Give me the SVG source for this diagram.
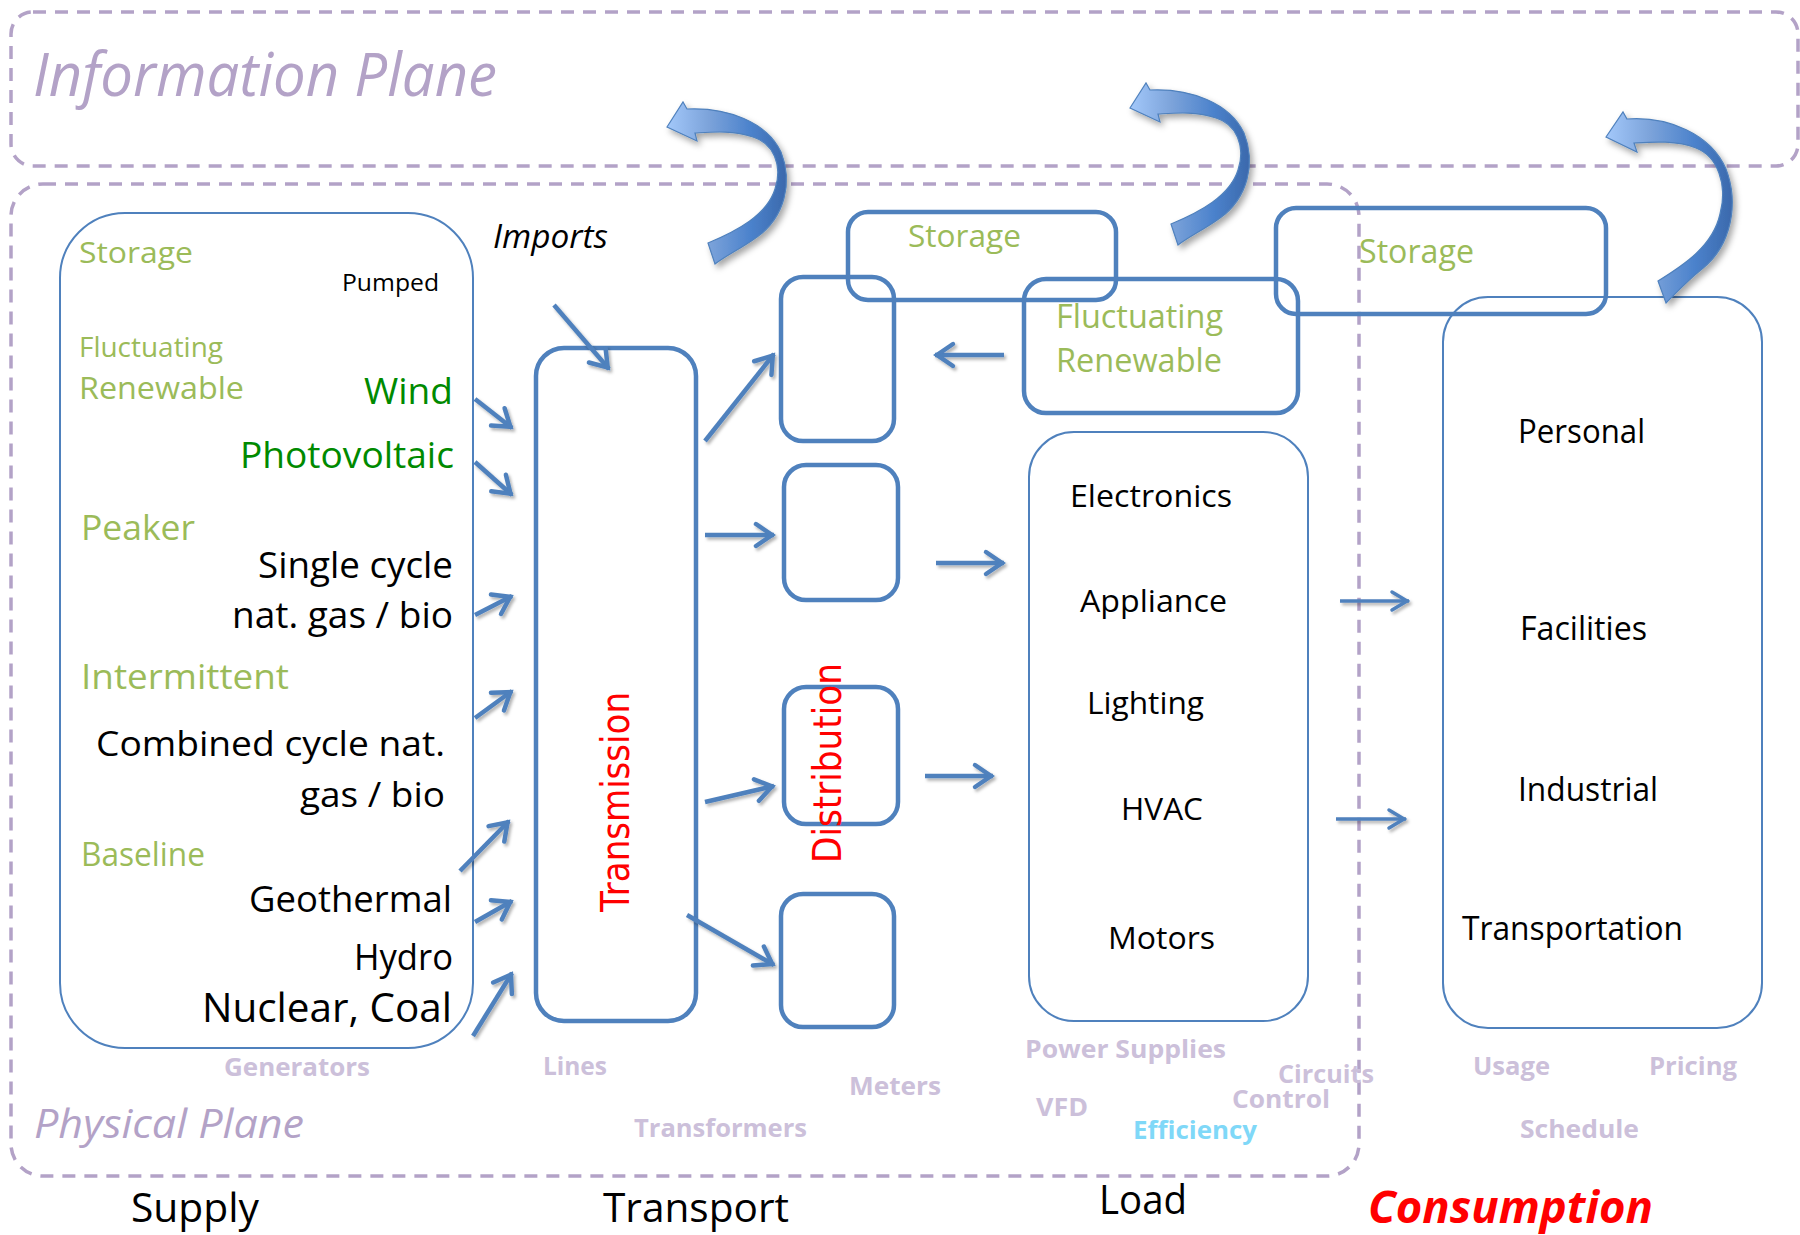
<svg xmlns="http://www.w3.org/2000/svg" width="1800" height="1235" viewBox="0 0 1800 1235">
<defs>
<style>
.pl{fill:none;stroke:#B3A2C7;stroke-width:3.5;stroke-dasharray:13 9}
.bx{fill:none;stroke:#4F81BD;stroke-width:4.5}
.bt{fill:none;stroke:#4F81BD;stroke-width:2}
text{font-family:"Open Sans","Liberation Sans",sans-serif;fill:#000}
.g{fill:#9BBB59}
.dg{fill:#008A00}
.pt{fill:#B3A2C7;font-style:italic;font-weight:normal}
.lv{fill:#CCC0DA;font-weight:bold;font-size:25.5px}
.rd{font-family:"DejaVu Sans","Liberation Sans",sans-serif;fill:#FF0000;font-size:39px}
.ln{stroke:#4F81BD;stroke-width:4.5;fill:none;marker-end:url(#ah)}
.ln2{stroke:#4F81BD;stroke-width:3.5;fill:none;marker-end:url(#ah2)}
.ca{fill:url(#cg);stroke:#4F81BD;stroke-width:1.2}
</style>
<marker id="ah" markerUnits="userSpaceOnUse" markerWidth="40" markerHeight="40" viewBox="-20 -20 40 40" refX="2" refY="0" orient="auto" overflow="visible">
<path d="M-16,-11 L0,0 L-16,11" fill="none" stroke="#4F81BD" stroke-width="4.5" stroke-linecap="round"/>
</marker>
<marker id="ah2" markerUnits="userSpaceOnUse" markerWidth="40" markerHeight="40" viewBox="-20 -20 40 40" refX="2" refY="0" orient="auto" overflow="visible">
<path d="M-15,-9 L0,0 L-15,9" fill="none" stroke="#4F81BD" stroke-width="3.5" stroke-linecap="round"/>
</marker>
<linearGradient id="cg" x1="0" y1="0" x2="1" y2="0">
<stop offset="0" stop-color="#A3C8FA"/>
<stop offset="0.35" stop-color="#7CA3DA"/>
<stop offset="0.7" stop-color="#4B82CC"/>
<stop offset="1" stop-color="#3B69AC"/>
</linearGradient>
<filter id="cs" x="-30%" y="-30%" width="170%" height="170%">
<feDropShadow dx="3" dy="4" stdDeviation="3" flood-color="#000" flood-opacity="0.35"/>
</filter>
<filter id="ls" x="-5%" y="-5%" width="115%" height="115%">
<feDropShadow dx="2" dy="2.5" stdDeviation="1.5" flood-color="#000" flood-opacity="0.3"/>
</filter>
<path id="carr" d="M0,0 L16,-25 L20,-18 C60,-20 100,-5 114,25 C126,55 118,90 90,110 C75,121 60,128 48,137 L41,116 C70,104 100,88 108,62 C116,38 106,16 86,10 C66,3 45,5 28,6 L30,14 Z"/>
</defs>

<g id="information-plane">
<rect class="pl" x="11" y="12" width="1787" height="154" rx="22"/>
<text class="pt" x="33" y="96" font-size="60" textLength="464" lengthAdjust="spacingAndGlyphs">Information Plane</text>
</g>

<g id="physical-plane">
<rect class="pl" x="11" y="184" width="1348" height="992" rx="32"/>
<text class="pt" x="34" y="1138" font-size="41" textLength="270" lengthAdjust="spacingAndGlyphs">Physical Plane</text>
</g>

<g id="supply">
<rect class="bt" x="60" y="213" width="413" height="835" rx="65"/>
<text class="g" x="79" y="263" font-size="29.5" textLength="114" lengthAdjust="spacingAndGlyphs">Storage</text>
<text x="342" y="291" font-size="24" textLength="97" lengthAdjust="spacingAndGlyphs">Pumped</text>
<text class="g" x="79" y="357" font-size="28" textLength="144" lengthAdjust="spacingAndGlyphs">Fluctuating</text>
<text class="g" x="79" y="399" font-size="31.5" textLength="165" lengthAdjust="spacingAndGlyphs">Renewable</text>
<text class="dg" x="364" y="404" font-size="36" textLength="89" lengthAdjust="spacingAndGlyphs">Wind</text>
<text class="dg" x="240" y="468" font-size="36" textLength="214" lengthAdjust="spacingAndGlyphs">Photovoltaic</text>
<text class="g" x="81" y="540" font-size="35" textLength="114" lengthAdjust="spacingAndGlyphs">Peaker</text>
<text x="258" y="578" font-size="36" textLength="195" lengthAdjust="spacingAndGlyphs">Single cycle</text>
<text x="232" y="628" font-size="36" textLength="221" lengthAdjust="spacingAndGlyphs">nat. gas / bio</text>
<text class="g" x="81" y="689" font-size="35" textLength="208" lengthAdjust="spacingAndGlyphs">Intermittent</text>
<text x="96" y="756" font-size="35" textLength="349" lengthAdjust="spacingAndGlyphs">Combined cycle nat.</text>
<text x="300" y="807" font-size="35" textLength="145" lengthAdjust="spacingAndGlyphs">gas / bio</text>
<text class="g" x="81" y="866" font-size="32" textLength="124" lengthAdjust="spacingAndGlyphs">Baseline</text>
<text x="249" y="912" font-size="36" textLength="203" lengthAdjust="spacingAndGlyphs">Geothermal</text>
<text x="354" y="970" font-size="36" textLength="99" lengthAdjust="spacingAndGlyphs">Hydro</text>
<text x="202" y="1022" font-size="40" textLength="250" lengthAdjust="spacingAndGlyphs">Nuclear, Coal</text>
<text class="lv" x="224" y="1076" textLength="146" lengthAdjust="spacingAndGlyphs">Generators</text>
<text x="131" y="1222" font-size="40" textLength="128" lengthAdjust="spacingAndGlyphs">Supply</text>
</g>

<g id="transport">
<text x="493" y="248" font-size="32" font-style="italic" textLength="115" lengthAdjust="spacingAndGlyphs">Imports</text>
<g id="transmission">
<rect class="bx" x="536" y="348" width="160" height="673" rx="28"/>
<text class="rd" transform="translate(629,912) rotate(-90)" x="0" y="0" textLength="220" lengthAdjust="spacingAndGlyphs">Transmission</text>
</g>
<g id="distribution">
<rect class="bx" x="781" y="277" width="113" height="164" rx="22"/>
<rect class="bx" x="784" y="465" width="114" height="135" rx="22"/>
<rect class="bx" x="784" y="687" width="114" height="137" rx="22"/>
<rect class="bx" x="781" y="894" width="113" height="133" rx="22"/>
<text class="rd" transform="translate(841,863) rotate(-90)" x="0" y="0" textLength="200" lengthAdjust="spacingAndGlyphs">Distribution</text>
</g>
<g id="storage-transport">
<rect class="bx" x="848" y="212" width="268" height="88" rx="20"/>
<text class="g" x="908" y="247" font-size="31" textLength="113" lengthAdjust="spacingAndGlyphs">Storage</text>
</g>
<text class="lv" x="543" y="1075" textLength="64" lengthAdjust="spacingAndGlyphs">Lines</text>
<text class="lv" x="634" y="1137" textLength="173" lengthAdjust="spacingAndGlyphs">Transformers</text>
<text class="lv" x="849" y="1095" textLength="92" lengthAdjust="spacingAndGlyphs">Meters</text>
<text x="603" y="1222" font-size="40" textLength="186" lengthAdjust="spacingAndGlyphs">Transport</text>
</g>

<g id="fluctuating-renewable">
<rect class="bx" x="1024" y="279" width="274" height="134" rx="22"/>
<text class="g" x="1056" y="328" font-size="33" textLength="167" lengthAdjust="spacingAndGlyphs">Fluctuating</text>
<text class="g" x="1056" y="372" font-size="33" textLength="166" lengthAdjust="spacingAndGlyphs">Renewable</text>
</g>

<g id="load">
<rect class="bt" x="1029" y="432" width="279" height="589" rx="45"/>
<text x="1070" y="507" font-size="31" textLength="162" lengthAdjust="spacingAndGlyphs">Electronics</text>
<text x="1080" y="612" font-size="31" textLength="147" lengthAdjust="spacingAndGlyphs">Appliance</text>
<text x="1087" y="714" font-size="31" textLength="117" lengthAdjust="spacingAndGlyphs">Lighting</text>
<text x="1121" y="820" font-size="31" textLength="82" lengthAdjust="spacingAndGlyphs">HVAC</text>
<text x="1108" y="949" font-size="31" textLength="107" lengthAdjust="spacingAndGlyphs">Motors</text>
<text class="lv" x="1025" y="1058" textLength="201" lengthAdjust="spacingAndGlyphs">Power Supplies</text>
<text class="lv" x="1036" y="1116" textLength="52" lengthAdjust="spacingAndGlyphs">VFD</text>
<text class="lv" x="1278" y="1083" textLength="96" lengthAdjust="spacingAndGlyphs">Circuits</text>
<text class="lv" x="1232" y="1108" textLength="98" lengthAdjust="spacingAndGlyphs">Control</text>
<text class="lv" x="1133" y="1139" style="fill:#7FD8F8" textLength="124" lengthAdjust="spacingAndGlyphs">Efficiency</text>
<text x="1099" y="1214" font-size="40" textLength="88" lengthAdjust="spacingAndGlyphs">Load</text>
</g>

<g id="storage-consumption">
<rect class="bx" x="1276" y="208" width="330" height="106" rx="20"/>
<text class="g" x="1359" y="263" font-size="32" textLength="115" lengthAdjust="spacingAndGlyphs">Storage</text>
</g>

<g id="consumption">
<rect class="bt" x="1443" y="297" width="319" height="731" rx="45"/>
<text x="1518" y="443" font-size="32" textLength="127" lengthAdjust="spacingAndGlyphs">Personal</text>
<text x="1520" y="640" font-size="32" textLength="127" lengthAdjust="spacingAndGlyphs">Facilities</text>
<text x="1518" y="801" font-size="32" textLength="140" lengthAdjust="spacingAndGlyphs">Industrial</text>
<text x="1462" y="940" font-size="32" textLength="221" lengthAdjust="spacingAndGlyphs">Transportation</text>
<text class="lv" x="1473" y="1075" textLength="77" lengthAdjust="spacingAndGlyphs">Usage</text>
<text class="lv" x="1649" y="1075" textLength="88" lengthAdjust="spacingAndGlyphs">Pricing</text>
<text class="lv" x="1520" y="1138" textLength="119" lengthAdjust="spacingAndGlyphs">Schedule</text>
<text x="1368" y="1223" font-size="44" font-weight="bold" font-style="italic" style="fill:#FF0000" textLength="285" lengthAdjust="spacingAndGlyphs">Consumption</text>
</g>

<g id="connectors" filter="url(#ls)">
<line class="ln" x1="475" y1="399" x2="512" y2="428"/>
<line class="ln" x1="475" y1="462" x2="512" y2="495"/>
<line class="ln" x1="475" y1="615" x2="512" y2="596"/>
<line class="ln" x1="475" y1="718" x2="512" y2="691"/>
<line class="ln" x1="460" y1="871" x2="509" y2="821"/>
<line class="ln" x1="475" y1="922" x2="512" y2="901"/>
<line class="ln" x1="473" y1="1036" x2="512" y2="973"/>
<line class="ln" x1="554" y1="305" x2="609" y2="369"/>
<line class="ln" x1="705" y1="441" x2="774" y2="354"/>
<line class="ln" x1="705" y1="535" x2="774" y2="535"/>
<line class="ln" x1="936" y1="563" x2="1004" y2="563"/>
<line class="ln" x1="1004" y1="355" x2="935" y2="355"/>
<line class="ln" x1="705" y1="802" x2="774" y2="786"/>
<line class="ln" x1="687" y1="915" x2="774" y2="965"/>
<line class="ln" x1="925" y1="776" x2="993" y2="776"/>
<line class="ln2" x1="1340" y1="601" x2="1409" y2="601"/>
<line class="ln2" x1="1336" y1="819" x2="1406" y2="819"/>
</g>

<g id="info-arrows" filter="url(#cs)">
<use href="#carr" class="ca" transform="translate(667,127)"/>
<use href="#carr" class="ca" transform="translate(1130,108)"/>
<path class="ca" transform="translate(1606,137)" d="M0,0 L17,-25 L21,-18 C62,-21 105,-3 120,32 C133,66 126,108 96,132 C82,143 70,156 60,166 L52,144 C78,128 107,109 114,77 C122,47 111,19 90,11 C70,3 45,5 28,6 L31,15 Z"/>
</g>
</svg>
